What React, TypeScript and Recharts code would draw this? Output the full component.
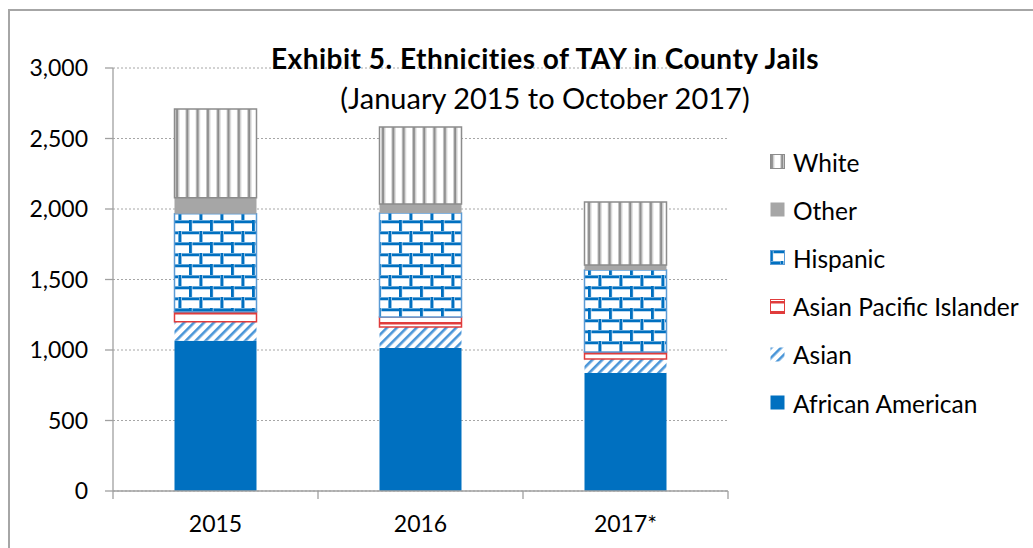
import React from 'react';
import { BarChart, Bar, XAxis, YAxis, CartesianGrid, Legend } from 'recharts';

// ---- data ----
const categories = ['2015', '2016', '2017*'];
const africanAmerican = [1065, 1014, 837];
const asian = [135, 149, 99];
const asianPacificIslander = [71, 71, 50];
const hispanic = [695, 738, 581];
const other = [113, 63, 36];
const white = [631, 547, 447];
const yTicks = [0, 500, 1000, 1500, 2000, 2500, 3000];

const data = categories.map((cat, i) => ({
  cat,
  africanAmerican: africanAmerican[i],
  asian: asian[i],
  asianPacificIslander: asianPacificIslander[i],
  hispanic: hispanic[i],
  other: other[i],
  white: white[i],
}));

// ---- styles ----
const FONT = 'Lato, "Open Sans", sans-serif';
const AXIS = '#A0A0A0';

const series = [
  { key: 'africanAmerican', name: 'African American', fill: '#0070C0', stroke: 'none' },
  { key: 'asian', name: 'Asian', fill: 'url(#pAsian)', stroke: 'none' },
  { key: 'asianPacificIslander', name: 'Asian Pacific Islander', fill: 'url(#pApi)', stroke: '#E03C3C' },
  { key: 'hispanic', name: 'Hispanic', fill: 'url(#pHisp)', stroke: '#5B9BD5' },
  { key: 'other', name: 'Other', fill: '#A6A6A6', stroke: 'none' },
  { key: 'white', name: 'White', fill: 'url(#pWhite)', stroke: '#8C8C8C' },
];

const Patterns = () => (
  <svg width={0} height={0} style={{ position: 'absolute' }}>
    <defs>
      <pattern id="pWhite" patternUnits="userSpaceOnUse" width={10.3} height={10}>
        <rect width={10.3} height={10} fill="#fff" />
        <rect x={0} width={1} height={10} fill="#C8C8C8" />
        <rect x={1} width={2.2} height={10} fill="#8C8C8C" />
        <rect x={3.2} width={1} height={10} fill="#C8C8C8" />
      </pattern>
      <pattern id="pHisp" patternUnits="userSpaceOnUse" width={21} height={22}>
        <rect width={21} height={22} fill="#fff" />
        <rect x={0} y={0} width={21} height={4} fill="#CFE3F5" />
        <rect x={0} y={11} width={21} height={4} fill="#CFE3F5" />
        <rect x={0} y={0.5} width={21} height={2.6} fill="#0070C0" />
        <rect x={0} y={11.5} width={21} height={2.6} fill="#0070C0" />
        <rect x={-0.5} y={0} width={4} height={11} fill="#CFE3F5" />
        <rect x={0} y={0} width={2.8} height={11} fill="#0070C0" />
        <rect x={10} y={11} width={4} height={11} fill="#CFE3F5" />
        <rect x={10.5} y={11} width={2.8} height={11} fill="#0070C0" />
      </pattern>
      <pattern id="pAsian" patternUnits="userSpaceOnUse" width={7} height={7} patternTransform="rotate(45)">
        <rect width={7} height={7} fill="#fff" />
        <rect x={0} y={0} width={2.6} height={7} fill="#4A96D8" />
      </pattern>
      <pattern id="pApi" patternUnits="userSpaceOnUse" width={10} height={10}>
        <rect width={10} height={10} fill="#fff" />
        <rect x={0} y={2} width={10} height={2.5} fill="#E03C3C" />
      </pattern>
    </defs>
  </svg>
);

const CatTick = (props: any) => {
  const { x, y, payload, index, visibleTicksCount } = props;
  const half = payload && typeof payload.offset === 'number' && payload.offset > 5 ? payload.offset : 102.5;
  const last = index === (visibleTicksCount ?? categories.length) - 1;
  return (
    <g>
      <line x1={x - half} x2={x - half} y1={y} y2={y + 8} stroke={AXIS} strokeWidth={1.3} />
      {last && <line x1={x + half} x2={x + half} y1={y} y2={y + 8} stroke={AXIS} strokeWidth={1.3} />}
      <text x={x} y={y + 41} textAnchor="middle" fontSize={23} fontFamily={FONT} fill="#000">
        {payload.value}
      </text>
    </g>
  );
};

const LegendContent = () => {
  const items = [...series].reverse();
  return (
    <div style={{ fontFamily: FONT, fontSize: 24.5, color: '#000' }}>
      {items.map((s) => (
        <div key={s.key} style={{ display: 'flex', alignItems: 'center', height: 48.2, whiteSpace: 'nowrap' }}>
          <svg width={16} height={16} style={{ marginRight: 7 }}>
            <rect x={0.5} y={0.5} width={14} height={14} fill={s.fill} stroke={s.stroke === 'none' ? 'none' : s.stroke} strokeWidth={1} />
          </svg>
          <span>{s.name}</span>
        </div>
      ))}
    </div>
  );
};

export default function App() {
  return (
    <div style={{ position: 'fixed', left: 0, top: 0, width: 1033, height: 548, background: '#fff', overflow: 'hidden' }}>
      <Patterns />
      <div style={{ position: 'absolute', left: 8, top: 9, width: 1100, height: 600, borderTop: '2px solid #A6A6A6', borderLeft: '2px solid #A6A6A6' }} />
      <div style={{ position: 'absolute', left: 0, top: 0 }}>
        <BarChart width={1033} height={548} data={data} margin={{ top: 68, right: 305, bottom: 17, left: 0 }} barCategoryGap="30%">
          <CartesianGrid vertical={false} stroke="#A6A6A6" strokeDasharray="2 2" />
          <XAxis
            dataKey="cat"
            height={40}
            interval={0}
            axisLine={{ stroke: AXIS, strokeWidth: 1.3 }}
            tickLine={false}
            tickSize={0}
            tickMargin={0}
            tick={<CatTick />}
          />
          <YAxis
            width={113}
            domain={[0, 3000]}
            ticks={yTicks}
            interval={0}
            tickFormatter={(v: number) => v.toLocaleString('en-US')}
            axisLine={{ stroke: AXIS, strokeWidth: 1.3 }}
            tickLine={{ stroke: AXIS, strokeWidth: 1.3 }}
            tickSize={8}
            tickMargin={17}
            tick={{ fill: '#000', fontSize: 23, fontFamily: FONT }}
          />
          <Legend
            layout="vertical"
            align="center"
            verticalAlign="middle"
            content={<LegendContent />}
            wrapperStyle={{ position: 'absolute', left: 770, top: 138, width: 262 }}
          />
          {series.map((s) => (
            <Bar
              key={s.key}
              dataKey={s.key}
              name={s.name}
              stackId="a"
              fill={s.fill}
              stroke={s.stroke}
              strokeWidth={s.stroke === 'none' ? 0 : 1.5}
              isAnimationActive={false}
            />
          ))}
        </BarChart>
      </div>
      <div style={{ position: 'absolute', left: 0, width: 1090, top: 40, textAlign: 'center', fontFamily: FONT, fontWeight: 700, fontSize: 28, letterSpacing: 0.5, lineHeight: '36px', color: '#000', pointerEvents: 'none' }}>
        Exhibit 5. Ethnicities of TAY in County Jails
      </div>
      <div style={{ position: 'absolute', left: 0, width: 1090, top: 80, textAlign: 'center', fontFamily: FONT, fontSize: 29, lineHeight: '36px', color: '#000', pointerEvents: 'none' }}>
        (January 2015 to October 2017)
      </div>
    </div>
  );
}
